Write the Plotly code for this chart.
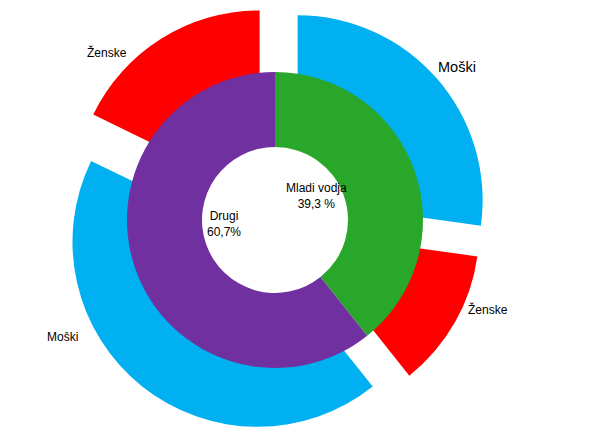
import math
import plotly.graph_objects as go

# ---- data ----
inner_labels = ["Mladi vodja", "Drugi"]
inner_values = [39.3, 60.7]
inner_text = ["Mladi vodja<br>39,3 %", "Drugi<br>60,7%"]

outer_labels = ["Moški", "Ženske", "Moški", "Ženske"]
outer_values = [27.2, 12.1, 42.9, 17.8]

# ---- styles / geometry ----
W, H = 591, 429
CX, CY = 275, 220          # centre in pixels (from top-left)
R_IN = 148                 # inner ring outer radius
HOLE_IN = 73 / 148
R_OUT = 185                # outer ring outer radius
HOLE_OUT = 0.6
pull_px = [30, 22, 28, 29] # explosion distance of each outer slice

inner_colors = ["#29A72A", "#7030A0"]
outer_colors = ["#00B0F0", "#FF0000", "#00B0F0", "#FF0000"]
FONT = "Liberation Sans, Arial, sans-serif"

# label positions (pixels) and sizes
outer_label_pos = [(457, 67), (488, 309), (62, 337), (107, 52)]
outer_label_size = [14.5, 12, 12, 12]
inner_label_pos = [(316, 196), (224, 224)]


def domain_for(cx, cy, r):
    return dict(x=[(cx - r) / W, (cx + r) / W],
                y=[(H - cy - r) / H, (H - cy + r) / H])


fig = go.Figure()

total = sum(outer_values)
cum = 0.0
for i, v in enumerate(outer_values):
    mid = (cum + v / 2) / total * 2 * math.pi
    cum += v
    sx = CX + pull_px[i] * math.sin(mid)
    sy = CY - pull_px[i] * math.cos(mid)
    cols = ["rgba(0,0,0,0)"] * len(outer_values)
    cols[i] = outer_colors[i]
    fig.add_trace(go.Pie(
        labels=[f"{l} {k}" for k, l in enumerate(outer_labels)],
        values=outer_values,
        sort=False, direction="clockwise", rotation=0,
        hole=HOLE_OUT,
        marker=dict(colors=cols, line=dict(width=0)),
        textinfo="none", hoverinfo="skip",
        domain=domain_for(sx, sy, R_OUT),
        showlegend=False,
    ))

fig.add_trace(go.Pie(
    labels=inner_labels, values=inner_values,
    sort=False, direction="clockwise", rotation=0,
    hole=HOLE_IN,
    marker=dict(colors=inner_colors, line=dict(width=0)),
    textinfo="none",
    domain=domain_for(CX, CY, R_IN),
    showlegend=False,
))

annotations = []
for lbl, (x, y), s in zip(outer_labels, outer_label_pos, outer_label_size):
    annotations.append(dict(x=x / W, y=1 - y / H, xref="paper", yref="paper",
                            text=lbl, showarrow=False,
                            font=dict(family=FONT, size=s, color="#000000"),
                            xanchor="center", yanchor="middle"))
for t, (x, y) in zip(inner_text, inner_label_pos):
    annotations.append(dict(x=x / W, y=1 - y / H, xref="paper", yref="paper",
                            text=t, showarrow=False,
                            font=dict(family=FONT, size=12, color="#000000"),
                            xanchor="center", yanchor="middle"))

fig.update_layout(
    width=W, height=H,
    margin=dict(l=0, r=0, t=0, b=0),
    paper_bgcolor="white", plot_bgcolor="white",
    annotations=annotations,
    showlegend=False,
)

fig.write_html("out.html")
